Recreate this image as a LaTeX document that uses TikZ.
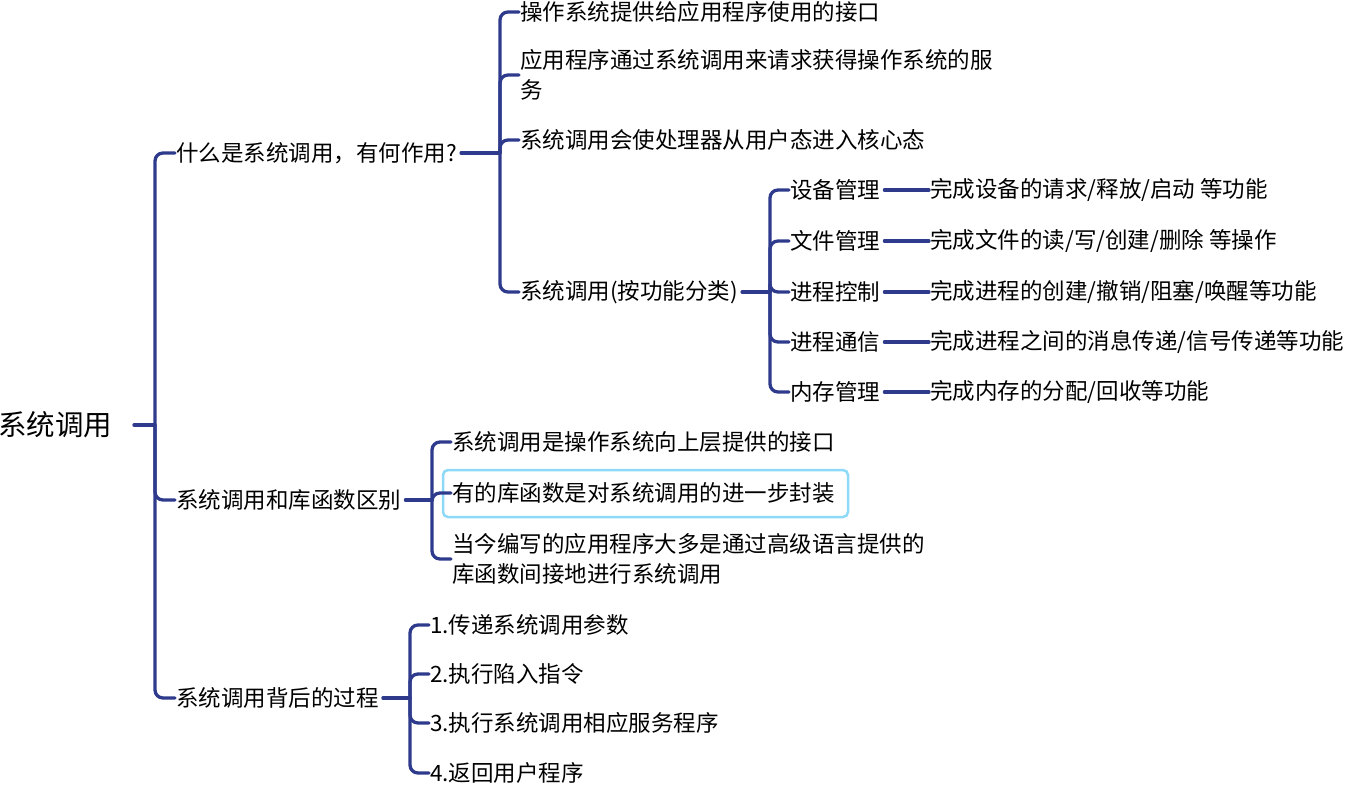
\documentclass[tikz,border=0pt]{standalone}
\usepackage{fontspec}
\setmainfont{Noto Sans CJK SC}
\definecolor{navy}{HTML}{2E3A8C}
\definecolor{hl}{HTML}{8ED8F8}
\tikzset{
  t/.style={anchor=west,inner sep=1pt,font=\fontsize{22.5}{30}\selectfont,align=left},
  conn/.style={draw=navy,line width=3.3pt,rounded corners=8pt,line cap=round},
}
\begin{document}
\begin{tikzpicture}[x=1pt,y=1pt]
\useasboundingbox (0,0) rectangle (1352,-794);
% root
\node[t,font=\fontsize{28.5}{32}\selectfont] (root) at (-3,-425) {系统调用};
\coordinate (j0) at (155,-425);
\node[t] (b1) at (175,-153) {什么是系统调用，有何作用?};
\node[t] (b2) at (175,-500) {系统调用和库函数区别};
\node[t] (b3) at (175,-698) {系统调用背后的过程};
\draw[conn] (134,-425) -- (j0);
\foreach \n in {b1,b2,b3} \draw[conn] (j0) |- (\n.west);
% branch 1
\coordinate (j1) at (500,-153);
\node[t] (c1) at (519,-12) {操作系统提供给应用程序使用的接口};
\node[t] (c2) at (519,-75) {应用程序通过系统调用来请求获得操作系统的服\\务};
\node[t] (c3) at (519,-140) {系统调用会使处理器从用户态进入核心态};
\node[t] (c4) at (519,-292) {系统调用(按功能分类)};
\draw[conn] (b1.east) ++(3,0) -- (j1);
\foreach \n in {c1,c2,c3,c4} \draw[conn] (j1) |- (\n.west);
% sub branch
\coordinate (j4) at (770,-292);
\draw[conn] (c4.east) ++(3,0) -- (j4);
\foreach \i/\a/\b/\y in {1/设备管理/{完成设备的请求/释放/启动 等功能}/190,
  2/文件管理/{完成文件的读/写/创建/删除 等操作}/241,
  3/进程控制/{完成进程的创建/撤销/阻塞/唤醒等功能}/292,
  4/进程通信/{完成进程之间的消息传递/信号传递等功能}/342,
  5/内存管理/{完成内存的分配/回收等功能}/392}{
  \node[t] (d\i) at (789,-\y) {\a};
  \node[t] (e\i) at (929,-\y) {\b};
  \draw[conn] (j4) |- (d\i.west);
  \draw[conn] (d\i.east) ++(3,0) -- (e\i.west);
}
% branch 2
\coordinate (j2) at (432,-500);
\draw[conn] (b2.east) ++(3,0) -- (j2);
\node[t] (f1) at (451,-442) {系统调用是操作系统向上层提供的接口};
\node[t] (f2) at (451,-493) {有的库函数是对系统调用的进一步封装};
\node[t] (f3) at (451,-559) {当今编写的应用程序大多是通过高级语言提供的\\库函数间接地进行系统调用};
\draw[draw=hl,line width=2.5pt,rounded corners=5pt] (443,-470) rectangle (848,-517);
\foreach \n in {f1,f2,f3} \draw[conn] (j2) |- (\n.west);
% branch 3
\coordinate (j3) at (410,-698);
\draw[conn] (b3.east) ++(3,0) -- (j3);
\node[t] (g1) at (429,-625) {1.传递系统调用参数};
\node[t] (g2) at (429,-674) {2.执行陷入指令};
\node[t] (g3) at (429,-723) {3.执行系统调用相应服务程序};
\node[t] (g4) at (429,-773) {4.返回用户程序};
\foreach \n in {g1,g2,g3,g4} \draw[conn] (j3) |- (\n.west);
\end{tikzpicture}
\end{document}
